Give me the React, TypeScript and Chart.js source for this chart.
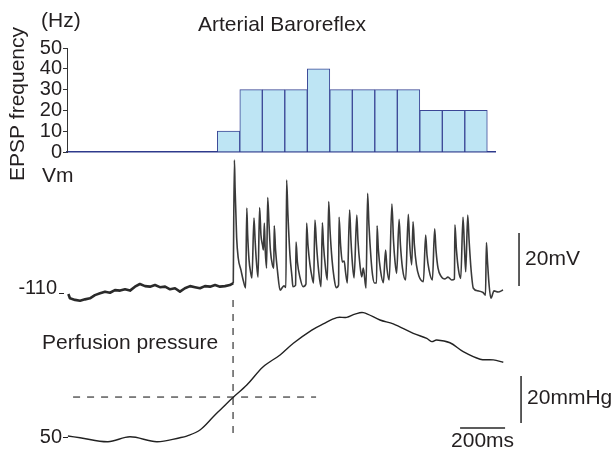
import React, { useEffect, useRef } from "react";
import { Chart, registerables } from "chart.js";

Chart.register(...registerables);

// ---------- data ----------
// EPSP frequency histogram: 100 ms bins (bin centres in ms) and counts in Hz
const binCenters = [718, 818, 918, 1018, 1118, 1218, 1318, 1418, 1518, 1618, 1718, 1818];
const epspFreq = [10, 30, 30, 30, 40, 30, 30, 30, 30, 20, 20, 20];
const freqTicks = [0, 10, 20, 30, 40, 50];

// Membrane potential (time ms, mV) before the pressure step
const vmBaseline: [number, number][] = [
  [6, -110.4], [13, -112.0], [36, -112.6], [58, -112.9], [80, -112.4], [102, -112.0],
  [124, -110.8], [147, -110.1], [169, -109.5], [191, -109.9], [213, -108.9], [236, -109.1],
  [258, -108.6], [280, -109.1], [302, -107.6], [324, -106.6], [347, -107.4], [369, -107.6],
  [391, -107.0], [413, -107.8], [436, -107.6], [458, -108.6], [480, -108.2], [502, -109.5],
  [524, -108.2], [547, -107.4], [569, -107.8], [591, -108.2], [613, -107.4], [636, -107.6],
  [658, -107.0], [680, -107.6], [702, -107.4], [724, -107.0], [739, -106.3],
];

// Membrane potential (time ms, mV) during the baroreflex response
const vmResponse: [number, number][] = [
  [739, -106.3],
  [744, -59.8], [747, -70.4], [754, -89.2], [761, -96.8], [773, -101.3], [784, -105.5], [794, -108.1],
  [799, -77.9], [803, -88.1], [809, -97.5], [816, -102.1], [822, -104.3],
  [831, -81.7], [836, -90.0], [842, -98.3], [849, -104.0],
  [856, -77.8], [862, -88.1], [869, -91.9], [873, -93.8],
  [877, -83.6], [881, -93.8], [887, -100.6],
  [892, -74.0], [898, -84.3], [904, -93.8], [913, -99.4], [919, -100.6],
  [921, -84.6], [927, -93.8], [936, -102.1], [947, -108.9], [964, -107.3], [973, -107.9],
  [976, -67.4], [982, -80.6], [991, -95.7], [1000, -104.0], [1004, -107.6], [1016, -107.0],
  [1018, -90.8], [1024, -98.3], [1036, -104.3], [1049, -107.6], [1062, -106.6],
  [1065, -83.6], [1071, -91.9], [1080, -99.4], [1089, -104.0], [1096, -106.2],
  [1102, -82.5], [1109, -91.9], [1118, -101.3], [1129, -107.6],
  [1135, -83.5], [1140, -91.9], [1149, -100.6], [1157, -105.1],
  [1163, -75.5], [1169, -86.2], [1178, -97.5], [1187, -104.3], [1196, -108.0], [1207, -107.0],
  [1209, -81.4], [1216, -91.9], [1224, -98.3], [1232, -97.9], [1238, -102.1], [1246, -106.2],
  [1256, -78.7], [1262, -90.0], [1269, -99.4], [1276, -104.3],
  [1288, -80.6], [1293, -90.0], [1302, -99.4], [1310, -103.9], [1317, -100.6], [1329, -108.2],
  [1336, -72.4], [1342, -84.3], [1351, -96.8], [1358, -103.2], [1366, -106.2], [1376, -106.2],
  [1378, -84.6], [1384, -93.8], [1393, -101.3], [1406, -106.1],
  [1416, -93.8], [1422, -100.6], [1432, -105.1],
  [1444, -76.4], [1451, -90.0], [1458, -98.3], [1465, -102.6],
  [1476, -82.2], [1482, -91.9], [1491, -100.6], [1505, -105.1],
  [1517, -80.3], [1522, -90.0], [1532, -99.4],
  [1538, -83.1], [1544, -91.9], [1553, -99.4], [1564, -103.6], [1584, -105.7],
  [1594, -88.1], [1600, -95.7], [1609, -101.3], [1624, -105.1],
  [1634, -85.8], [1640, -93.8], [1649, -100.6], [1662, -103.6], [1680, -104.7], [1693, -104.0], [1710, -105.1], [1722, -104.7],
  [1724, -84.3], [1731, -93.8], [1740, -101.3], [1750, -104.5],
  [1760, -81.4], [1766, -91.9], [1772, -102.0],
  [1781, -80.6], [1787, -90.0], [1796, -101.3], [1806, -108.2], [1827, -109.2], [1849, -109.8], [1860, -110.8],
  [1864, -91.0], [1869, -98.3], [1876, -107.0], [1884, -112.0], [1898, -109.2], [1916, -109.6], [1938, -108.9],
];

// Perfusion pressure (time ms, mmHg)
const perfusion: [number, number][] = [
  [4, 50.4], [58, 49.7], [182, 48.0], [280, 50.1], [399, 48.0], [502, 49.7], [532, 50.4],
  [591, 53.0], [650, 58.6], [710, 64.3], [739, 66.9], [799, 72.1], [872, 79.9], [947, 84.9],
  [1006, 89.9], [1088, 95.5], [1139, 98.1], [1199, 100.8], [1243, 100.9], [1280, 102.3],
  [1317, 102.9], [1391, 99.8], [1450, 98.1], [1539, 94.1], [1599, 92.0], [1621, 90.6],
  [1643, 91.3], [1702, 90.1], [1761, 86.3], [1836, 83.1], [1895, 82.8], [1939, 81.8],
];

const onsetTime = 738; // ms, vertical dashed marker
const onsetPressureSpan = [51.7, 109.6]; // mmHg extent of the marker
const thresholdPressure = 67; // mmHg, horizontal dashed marker
const thresholdTimeSpan = [27, 1107]; // ms
const vmRef = -110; // mV label
const pressureRef = 50; // mmHg label
const vmBar = { t: 2009, from: -107.4, size: 20 }; // 20 mV
const pressureBar = { t: 2018, from: 56, size: 20 }; // 20 mmHg
const timeBar = { p: 53.8, from: 1747, size: 200 }; // 200 ms

// ---------- layout ----------
const W = 613;
const H = 451;
const FONT = '"Liberation Sans", Arial, Helvetica, sans-serif';
const INK = "#231f20";
const AREA_LEFT = 67;
const PX_PER_MS = 0.225;
const T_MAX = 2400;
const VM_PX = 293; // pixel of vmRef
const VM_K = 2.65; // px per mV
const P_PX = 437; // pixel of pressureRef
const P_K = 2.35; // px per mmHg
const HIST_H = 195;
const LABEL_FONT = `21px ${FONT}`;

const pts = (arr: [number, number][]) => arr.map(([x, y]) => ({ x, y }));

export default function App() {
  const histRef = useRef<HTMLCanvasElement | null>(null);
  const traceRef = useRef<HTMLCanvasElement | null>(null);

  useEffect(() => {
    document.body.style.margin = "0";
    const hc = histRef.current!;
    const tc = traceRef.current!;

    const histText = {
      id: "histText",
      afterDraw(chart: any) {
        const ctx = chart.ctx;
        ctx.save();
        ctx.fillStyle = INK;
        ctx.font = LABEL_FONT;
        ctx.textBaseline = "middle";
        ctx.textAlign = "left";
        ctx.fillText("(Hz)", 41, 21);
        ctx.fillText("Arterial Baroreflex", 198, 25.5);
        ctx.translate(18, 104);
        ctx.rotate(-Math.PI / 2);
        ctx.textAlign = "center";
        ctx.fillText("EPSP frequency", 0, 0);
        ctx.restore();
      },
    };

    const hist = new Chart(hc, {
      type: "bar",
      data: {
        datasets: [
          {
            data: binCenters.map((x, i) => ({ x, y: epspFreq[i] })),
            backgroundColor: "#bee5f4",
            borderColor: "#3b4796",
            borderWidth: 1,
            barPercentage: 1,
            categoryPercentage: 1,
            borderSkipped: "start",
          } as any,
        ],
      },
      options: {
        animation: false,
        responsive: false,
        maintainAspectRatio: false,
        layout: { padding: { top: 48, bottom: HIST_H - 152, left: 0, right: W - 495 } },
        plugins: { legend: { display: false }, tooltip: { enabled: false } },
        scales: {
          x: {
            type: "linear",
            min: 0,
            max: (495 - AREA_LEFT) / PX_PER_MS,
            offset: false,
            grid: { display: false, offset: false },
            ticks: { display: false, stepSize: 500 },
            border: { color: "#2e3a8c", width: 1.5 },
            afterFit: (s: any) => {
              s.height = 0;
            },
          },
          y: {
            min: 0,
            max: 50,
            afterBuildTicks: (s: any) => {
              s.ticks = freqTicks.map((v) => ({ value: v }));
            },
            ticks: {
              autoSkip: false,
              font: { family: FONT, size: 20 },
              color: INK,
              padding: 1,
            },
            grid: { drawOnChartArea: false, tickLength: 4, color: "#333", lineWidth: 1 },
            border: { color: "#333", width: 1 },
            afterFit: (s: any) => {
              s.width = AREA_LEFT;
            },
          },
        } as any,
      },
      plugins: [histText],
    });

    const traceText = {
      id: "traceText",
      afterDraw(chart: any) {
        const ctx = chart.ctx;
        const x = chart.scales.x;
        const vm = chart.scales.vm;
        const pr = chart.scales.pres;
        const left = chart.chartArea.left;
        ctx.save();
        ctx.fillStyle = INK;
        ctx.strokeStyle = INK;
        ctx.lineWidth = 1;
        ctx.font = LABEL_FONT;
        ctx.textBaseline = "middle";
        ctx.textAlign = "left";
        ctx.fillText("Vm", 42, 176.5);
        ctx.fillText("Perfusion pressure", 42, 343.5);
        ctx.fillText("20mV", x.getPixelForValue(vmBar.t) + 6, vm.getPixelForValue(vmBar.from + vmBar.size / 2));
        ctx.fillText(
          "20mmHg",
          x.getPixelForValue(pressureBar.t) + 6,
          pr.getPixelForValue(pressureBar.from + pressureBar.size / 2) - 1
        );
        ctx.textAlign = "center";
        ctx.fillText("200ms", x.getPixelForValue(timeBar.from + timeBar.size / 2), pr.getPixelForValue(timeBar.p) + 13);
        ctx.textAlign = "right";
        ctx.font = `20px ${FONT}`;
        const yv = vm.getPixelForValue(vmRef);
        ctx.fillText(String(vmRef), left - 10, yv - 4.5);
        ctx.beginPath();
        ctx.moveTo(left - 8, yv + 0.5);
        ctx.lineTo(left - 3, yv + 0.5);
        ctx.stroke();
        const yp = pr.getPixelForValue(pressureRef);
        ctx.fillText(String(pressureRef), left - 5, yp);
        ctx.beginPath();
        ctx.moveTo(left - 4, yp + 0.5);
        ctx.lineTo(left + 1, yp + 0.5);
        ctx.stroke();
        ctx.restore();
      },
    };

    const line = (data: any[], axis: string, extra: any = {}) => ({
      data,
      yAxisID: axis,
      borderColor: "#262626",
      borderWidth: 1.5,
      pointRadius: 0,
      tension: 0,
      fill: false,
      borderJoinStyle: "round",
      ...extra,
    });

    const trace = new Chart(tc, {
      type: "line",
      data: {
        datasets: [
          line(pts(vmBaseline), "vm", { borderWidth: 2.6, borderColor: "#2a2a2a" }),
          line(pts(vmResponse), "vm", {
            borderWidth: 1.6,
            borderColor: "#3a3a3a",
            cubicInterpolationMode: "monotone",
          }),
          line(pts(perfusion), "pres", { tension: 0.35, borderWidth: 1.4, borderColor: "#222" }),
          line(
            thresholdTimeSpan.map((t) => ({ x: t, y: thresholdPressure })),
            "pres",
            { borderDash: [7, 7], borderWidth: 1.2, borderColor: "#333" }
          ),
          line(
            onsetPressureSpan.map((p) => ({ x: onsetTime, y: p })),
            "pres",
            { borderDash: [7, 7], borderWidth: 1.2, borderColor: "#333" }
          ),
          line(
            [
              { x: vmBar.t, y: vmBar.from },
              { x: vmBar.t, y: vmBar.from + vmBar.size },
            ],
            "vm"
          ),
          line(
            [
              { x: pressureBar.t, y: pressureBar.from },
              { x: pressureBar.t, y: pressureBar.from + pressureBar.size },
            ],
            "pres"
          ),
          line(
            [
              { x: timeBar.from, y: timeBar.p },
              { x: timeBar.from + timeBar.size, y: timeBar.p },
            ],
            "pres"
          ),
        ],
      },
      options: {
        animation: false,
        responsive: false,
        maintainAspectRatio: false,
        layout: { padding: { left: AREA_LEFT, right: W - (AREA_LEFT + T_MAX * PX_PER_MS), top: 0, bottom: 0 } },
        plugins: { legend: { display: false }, tooltip: { enabled: false } },
        scales: {
          x: { type: "linear", min: 0, max: T_MAX, display: false },
          vm: {
            type: "linear",
            axis: "y",
            position: "left",
            min: vmRef - (H - VM_PX) / VM_K,
            max: vmRef + VM_PX / VM_K,
            display: false,
          },
          pres: {
            type: "linear",
            axis: "y",
            position: "left",
            min: pressureRef - (H - P_PX) / P_K,
            max: pressureRef + P_PX / P_K,
            display: false,
          },
        } as any,
      },
      plugins: [traceText],
    });

    return () => {
      hist.destroy();
      trace.destroy();
    };
  }, []);

  return (
    <div style={{ position: "relative", width: W, height: H, background: "#fff", overflow: "hidden" }}>
      <canvas
        ref={histRef}
        width={W}
        height={HIST_H}
        style={{ position: "absolute", left: 0, top: 0, width: W, height: HIST_H }}
      />
      <canvas
        ref={traceRef}
        width={W}
        height={H}
        style={{ position: "absolute", left: 0, top: 0, width: W, height: H }}
      />
    </div>
  );
}
